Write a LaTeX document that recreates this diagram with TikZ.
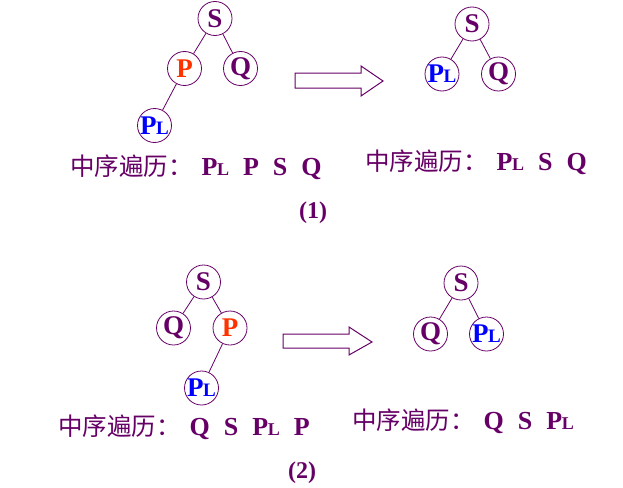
\documentclass[tikz,border=0pt]{standalone}
\usepackage{fontspec}
\setmainfont{Liberation Serif}
\newfontfamily\cjk{Noto Sans CJK SC}
\usetikzlibrary{positioning}
\definecolor{plum}{HTML}{660066}
\definecolor{hot}{HTML}{FF3300}
\newcommand{\pl}{P\kern-0.5pt{\fontsize{19}{19}\selectfont L}}
\newcommand{\plt}{P\kern-0.5pt{\fontsize{18}{18}\selectfont L}}
\newcommand{\zx}{{\cjk\mdseries\fontsize{24.5}{24.5}\selectfont 中序遍历：}\hspace{9pt}}
\newcommand{\gap}{\hspace{14pt}}

\begin{document}
\begin{tikzpicture}[x=1pt,y=-1pt]
	\tikzstyle{vertex}=[circle,draw=plum,line width=0.8pt,minimum size=34pt,inner sep=0pt,
		text=plum,font=\fontsize{27}{27}\selectfont\bfseries]
	\tikzstyle{cur}=[text=hot]
	\tikzstyle{low}=[text=blue]
	\tikzstyle{edge}=[plum,line width=0.8pt]
	\tikzstyle{bigarrow}=[draw=plum,line width=1pt,fill=white,line join=miter]
	\tikzstyle{walk}=[anchor=base west,inner sep=0pt,text=plum,font=\fontsize{26}{26}\selectfont\bfseries]
	\tikzstyle{tag}=[anchor=base,inner sep=0pt,text=plum,font=\fontsize{24}{24}\selectfont\bfseries]
	\path[use as bounding box] (0,0) rectangle (623,487);
	% (1) before
	\node (s1) at (215,18.5) [vertex] {S};
	\node (p1) at (184.5,68.5) [vertex,cur] {P};
	\node (q1) at (240.5,68.5) [vertex] {Q};
	\node (pl1) at (154.5,125.5) [vertex,low] {\pl};
	\draw [edge] (s1) -- (p1);
	\draw [edge] (s1) -- (q1);
	\draw [edge] (p1) -- (pl1);
	% (1) after
	\node (s2) at (472,24) [vertex] {S};
	\node (pl2) at (442,74) [vertex,low] {\pl};
	\node (q2) at (498.5,74) [vertex] {Q};
	\draw [edge] (s2) -- (pl2);
	\draw [edge] (s2) -- (q2);
	\draw [bigarrow] (295,73) -- (361,73) -- (361,66) -- (383,81)
		-- (361,96) -- (361,88) -- (295,88) -- cycle;
	\node (walk1) at (70,175) [walk] {\zx\plt\gap P\gap S\gap Q};
	\node (walk2) at (365,170) [walk] {\zx\plt\gap S\gap Q};
	\node (tag1) at (313,218) [tag] {(1)};
	% (2) before
	\node (s3) at (203.5,282) [vertex] {S};
	\node (q3) at (173.5,328) [vertex] {Q};
	\node (p3) at (230,328) [vertex,cur] {P};
	\node (pl3) at (201.5,388) [vertex,low] {\pl};
	\draw [edge] (s3) -- (q3);
	\draw [edge] (s3) -- (p3);
	\draw [edge] (p3) -- (pl3);
	% (2) after
	\node (s4) at (461,283) [vertex] {S};
	\node (q4) at (430.5,334) [vertex] {Q};
	\node (pl4) at (486.5,334) [vertex,low] {\pl};
	\draw [edge] (s4) -- (q4);
	\draw [edge] (s4) -- (pl4);
	\draw [bigarrow] (283,334) -- (349,334) -- (349,327) -- (372,342)
		-- (349,355) -- (349,348) -- (283,348) -- cycle;
	\node (walk3) at (58,435) [walk] {\zx Q\gap S\gap\plt\gap P};
	\node (walk4) at (352,429) [walk] {\zx Q\gap S\gap\plt};
	\node (tag2) at (302,478) [tag] {(2)};
\end{tikzpicture}
\end{document}
